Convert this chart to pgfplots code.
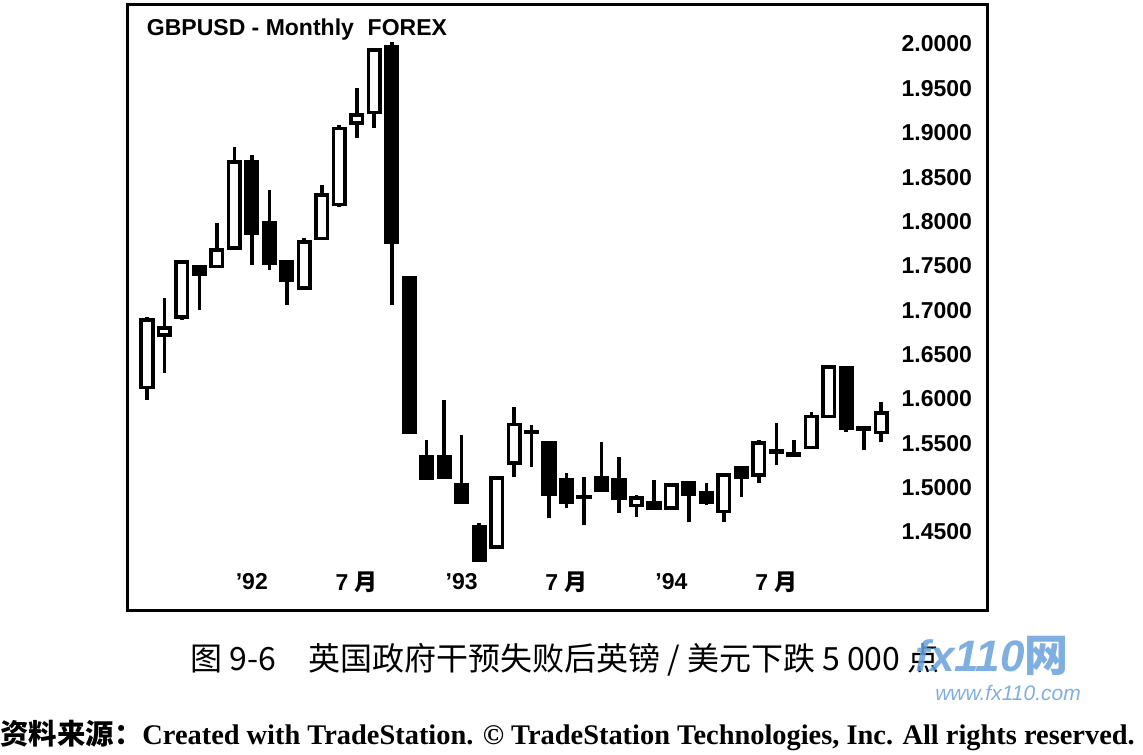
\documentclass[border=0pt]{standalone}
\usepackage{fontspec}
\setmainfont{Liberation Sans}
\newfontfamily\serif{Liberation Serif}
\newfontfamily\cjk{Noto Sans CJK SC}
\usepackage{pgfplots}
\usepackage{pgfplotstable}
\pgfplotsset{compat=1.18}

\definecolor{wm}{RGB}{105,160,220}

% monthly GBP/USD, Jul 1991 .. Jan 1995 (pos 0 = Jul 91)
\pgfplotstableread{
pos O     H     L     C
0   1.613 1.692 1.599 1.689
1   1.672 1.714 1.629 1.680
2   1.692 1.757 1.689 1.754
3   1.749 1.750 1.700 1.740
4   1.749 1.798 1.748 1.768
5   1.770 1.884 1.768 1.867
6   1.867 1.875 1.751 1.787
7   1.798 1.835 1.745 1.753
8   1.754 1.756 1.706 1.734
9   1.725 1.781 1.723 1.777
10  1.781 1.841 1.779 1.830
11  1.819 1.909 1.816 1.905
12  1.911 1.950 1.894 1.920
13  1.923 1.995 1.905 1.993
14  1.997 2.002 1.706 1.777
15  1.736 1.737 1.561 1.562
16  1.535 1.554 1.509 1.511
17  1.535 1.599 1.510 1.512
18  1.503 1.559 1.483 1.484
19  1.456 1.460 1.416 1.418
20  1.433 1.512 1.431 1.511
21  1.528 1.591 1.512 1.571
22  1.562 1.571 1.523 1.563
23  1.551 1.552 1.466 1.492
24  1.509 1.517 1.477 1.484
25  1.490 1.512 1.458 1.489
26  1.511 1.551 1.496 1.497
27  1.509 1.535 1.471 1.488
28  1.480 1.492 1.467 1.488
29  1.483 1.509 1.476 1.477
30  1.477 1.504 1.476 1.503
31  1.505 1.506 1.461 1.492
32  1.494 1.505 1.480 1.483
33  1.473 1.515 1.461 1.514
34  1.522 1.523 1.489 1.512
35  1.514 1.554 1.505 1.550
36  1.540 1.573 1.526 1.541
37  1.537 1.554 1.536 1.538
38  1.545 1.585 1.544 1.580
39  1.580 1.637 1.579 1.636
40  1.635 1.636 1.563 1.567
41  1.567 1.568 1.542 1.566
42  1.562 1.597 1.551 1.584
}\candles

\begin{document}
\begin{tikzpicture}
\path[use as bounding box] (0,0) rectangle (571.5pt,-377pt);
\begin{axis}[
  at={(63.5pt,-2.5pt)}, anchor=north west,
  width=430pt, height=302.5pt, scale only axis,
  xmin=-1.14, xmax=48.05, ymin=1.362, ymax=2.044,
  axis line style={line width=1.5pt},
  major tick length=0pt,
  ytick={1.45,1.5,1.55,1.6,1.65,1.7,1.75,1.8,1.85,1.9,1.95,2.0},
  yticklabel pos=right,
  yticklabel style={anchor=east, xshift=-4pt,
    font=\bfseries\fontsize{11.5}{12}\selectfont,
    /pgf/number format/.cd, fixed, fixed zerofill, precision=4,
    assume math mode=true},
  xtick={6,12,18,24,30,36},
  xticklabels={{'92},{7 {\cjk 月}},{'93},{7 {\cjk 月}},{'94},{7 {\cjk 月}}},
  xticklabel style={anchor=center, yshift=14pt,
    font=\bfseries\fontsize{11.5}{12}\selectfont},
]
\pgfplotstablegetrowsof{\candles}
\pgfmathtruncatemacro\lastrow{\pgfplotsretval-1}
\pgfplotsforeachungrouped \ci in {0,...,\lastrow}{%
  \pgfplotstablegetelem{\ci}{pos}\of\candles \let\cdP\pgfplotsretval
  \pgfplotstablegetelem{\ci}{O}\of\candles \let\cdO\pgfplotsretval
  \pgfplotstablegetelem{\ci}{H}\of\candles \let\cdH\pgfplotsretval
  \pgfplotstablegetelem{\ci}{L}\of\candles \let\cdL\pgfplotsretval
  \pgfplotstablegetelem{\ci}{C}\of\candles \let\cdC\pgfplotsretval
  \ifdim\cdC pt<\cdO pt
    \edef\cdLo{\cdC}\edef\cdHi{\cdO}\def\cdFill{black}%
  \else
    \edef\cdLo{\cdO}\edef\cdHi{\cdC}\def\cdFill{white}%
  \fi
  \pgfmathsetmacro\cdA{\cdP-0.33}%
  \pgfmathsetmacro\cdB{\cdP+0.33}%
  \edef\cdPlot{%
    \noexpand\addplot[draw=black, line width=1.8pt]
      coordinates {(\cdP,\cdL) (\cdP,\cdH)};
    \noexpand\addplot[draw=black, fill=\cdFill, line width=1.8pt]
      coordinates {(\cdA,\cdLo) (\cdB,\cdLo) (\cdB,\cdHi) (\cdA,\cdHi)} --cycle;}%
  \cdPlot
}
\node[anchor=west, font=\bfseries\fontsize{11.5}{12}\selectfont]
  at (rel axis cs:0.015,0.959) {GBPUSD - Monthly\hspace{0.6em}FOREX};
\end{axis}
\node[font=\cjk\fontsize{16}{18}\selectfont] at (282.5pt,-330pt)
  {图 9-6\quad 英国政府干预失败后英镑 / 美元下跌 5 000 点};
\node[text=wm, opacity=0.85, inner sep=0pt, font=\bfseries\itshape\fontsize{22}{24}\selectfont]
  at (496pt,-328pt) {fx110{\cjk\bfseries 网}};
\node[text=wm, opacity=0.85, inner sep=0pt, font=\itshape\fontsize{10.5}{12}\selectfont]
  at (504pt,-346.5pt) {www.fx110.com};
\node[anchor=west, inner sep=0pt, font=\bfseries\fontsize{14.2}{16}\selectfont] at (0pt,-367.5pt)
  {{\cjk 资料来源：}{\serif Created with TradeStation. \textcopyright{} TradeStation Technologies, Inc. All rights reserved.}};
\end{tikzpicture}
\end{document}
